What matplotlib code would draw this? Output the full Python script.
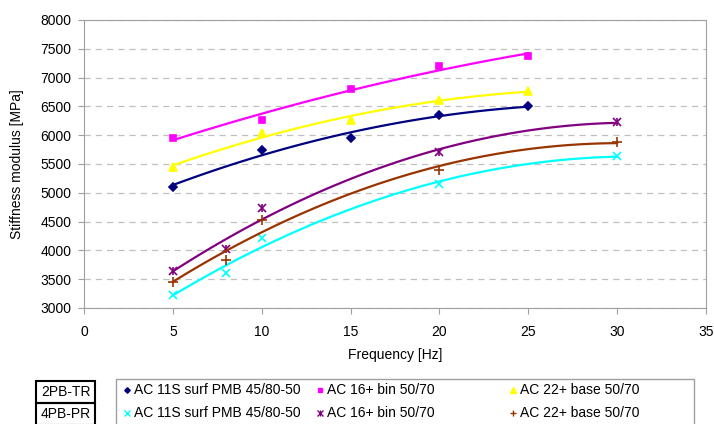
import numpy as np
import matplotlib
matplotlib.use('Agg')
import matplotlib.pyplot as plt
from matplotlib.patches import Rectangle

plt.rcParams['font.family'] = ['Liberation Sans', 'DejaVu Sans']

#frequencias
freq2pb = [5, 10, 15, 20, 25]
freq4pb = [5, 8, 10, 20, 30]

#2PB-TR
ac11_2pb = [5100, 5750, 5960, 6350, 6500]
ac16_2pb = [5960, 6270, 6800, 7200, 7380]
ac22_2pb = [5450, 6030, 6270, 6610, 6760]

#4PB-PR
ac11_4pb = [3230, 3600, 4220, 5150, 5640]
ac16_4pb = [3650, 4030, 4730, 5700, 6230]
ac22_4pb = [3460, 3830, 4520, 5400, 5880]

labels = ['AC 11S surf PMB 45/80-50', 'AC 16+ bin 50/70', 'AC 22+ base 50/70']
groups = ['2PB-TR', '4PB-PR']

series = [
    (freq2pb, ac11_2pb, '#000080', 'D', 4),
    (freq2pb, ac16_2pb, '#ff00ff', 's', 5),
    (freq2pb, ac22_2pb, '#ffff00', '^', 6),
    (freq4pb, ac11_4pb, '#00ffff', 'x', 6),
    (freq4pb, ac16_4pb, '#800080', 'x', 6),
    (freq4pb, ac22_4pb, '#993300', '+', 7),
]

fig = plt.figure(figsize=(7.14, 4.24), dpi=100)
ax = fig.add_axes([84/714, 1-308/424, (706-84)/714, (308-20)/424])

for i, (x, y, c, m, ms) in enumerate(series):
    ax.plot(x, y, ls='none', marker=m, color=c, ms=ms, mew=1.2)
    if i == 4:
        ax.plot(x, y, ls='none', marker='|', color=c, ms=ms, mew=1.2)
    #linha de tendencia polinomial (2a ordem)
    p = np.polyfit(x, y, 2)
    xx = np.linspace(min(x), max(x), 100)
    ax.plot(xx, np.polyval(p, xx), color=c, lw=1.6)

ax.set_xlim(0, 35)
ax.set_ylim(3000, 8000)
ax.set_xticks(range(0, 36, 5))
ax.set_yticks(range(3000, 8001, 500))
ax.yaxis.grid(True, ls=(0, (5, 4)), color='#c0c0c0', lw=0.9)
for s in ax.spines.values():
    s.set_color('#a0a0a0')
ax.tick_params(colors='#a0a0a0', labelcolor='black', labelsize=10, length=4)
ax.tick_params(axis='x', pad=8)
ax.tick_params(axis='y', pad=5)
ax.set_xlabel('Frequency [Hz]', fontsize=10, labelpad=7)
ax.set_ylabel('Stiffness modulus [MPa]', fontsize=10, labelpad=12)

#legenda em forma de tabela
lax = fig.add_axes([0, 0, 1, 1], facecolor='none')
lax.set_xlim(0, 714)
lax.set_ylim(424, 0)
lax.axis('off')
lax.add_patch(Rectangle((116, 379), 578, 50, fill=False, ec='#a0a0a0', lw=1))
for r, g in enumerate(groups):
    y0 = 381 + r * 22
    lax.add_patch(Rectangle((36, y0), 59, 22, fill=False, ec='black', lw=1.5))
    lax.text(65.5, y0 + 11, g, ha='center', va='center', fontsize=10)
colx = [127, 320, 513]
for k, (x, y, c, m, ms) in enumerate(series):
    r, col = k // 3, k % 3
    yy = 390 + r * 23
    lax.plot(colx[col], yy, marker=m, color=c, ms=ms * 0.7, mew=1)
    if k == 4:
        lax.plot(colx[col], yy, marker='|', color=c, ms=ms * 0.7, mew=1)
    lax.text(colx[col] + 7, yy, labels[col], va='center', fontsize=10)

fig.savefig('out.png', dpi=100)
